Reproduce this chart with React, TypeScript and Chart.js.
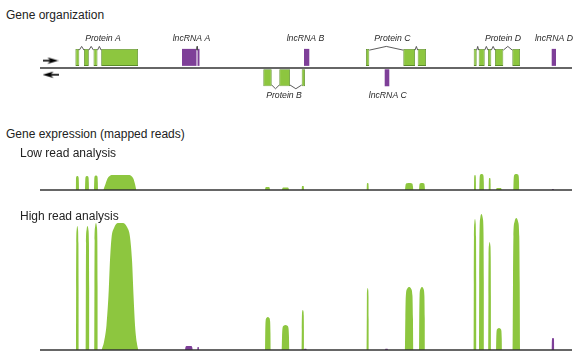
import React, { useEffect, useRef } from "react";
import { Chart, registerables } from "chart.js";

Chart.register(...registerables);

// ---------- genome axis (arbitrary genomic position units) ----------
const AXIS_START = 0;
const AXIS_END = 532;

// ---------- gene models: exon [start, end] ----------
const proteinAExons = [[35.4, 39.3], [44.0, 48.8], [53.5, 57.5], [61.2, 98.0]];
const lncRnaAExons = [[142.0, 156.5], [157.5, 159.5]];
const proteinBExons = [[223.3, 231.7], [239.3, 250.0], [261.7, 265.0]];
const lncRnaBExons = [[264.0, 269.3]];
const proteinCExons = [[326.0, 329.3], [363.3, 375.0], [377.7, 386.0]];
const lncRnaCExons = [[344.7, 349.3]];
const proteinDExons = [[433.7, 436.7], [438.7, 444.7], [448.0, 451.3], [455.0, 463.3], [472.3, 480.0]];
const lncRnaDExons = [[511.7, 516.0]];

const geneNames = ["Protein A", "lncRNA A", "Protein B", "lncRNA B", "Protein C", "lncRNA C", "Protein D", "lncRNA D"];
const geneStrands = [1, 1, -1, 1, 1, -1, 1, 1];
const geneIsProtein = [true, false, true, false, true, false, true, false];
const geneLabelCentres = [63, 151.5, 244, 265.5, 352.3, 347.8, 463, 514];
const geneExonLists = [proteinAExons, lncRnaAExons, proteinBExons, lncRnaBExons, proteinCExons, lncRnaCExons, proteinDExons, lncRnaDExons];

// ---------- mapped reads: [start, end, reads] ----------
const lowReadGreenPeaks = [
  [35.7, 39.0, 14], [45.0, 49.0, 14], [54.0, 58.0, 14.5],
  [225.0, 230.0, 3], [242.0, 249.0, 2.5], [261.7, 264.0, 4],
  [326.7, 328.7, 7], [365.0, 373.3, 7], [379.0, 385.0, 7],
  [434.0, 436.0, 15], [439.3, 444.0, 16], [448.7, 450.7, 12],
  [456.0, 461.7, 2], [473.3, 479.3, 16],
];
const lowReadProteinAProfile = [
  [63.3, 0], [65.5, 6], [67.5, 11.5], [70, 14.3], [73, 15], [88, 15], [91, 14.3], [93.3, 11.5], [95, 6], [96.3, 0],
];
const lowReadPurplePeaks = [[511.7, 514.0, 1]];

const highReadGreenPeaks = [
  [36.0, 38.7, 124], [45.7, 49.3, 124], [54.3, 57.7, 127],
  [225.0, 230.7, 33], [241.7, 249.3, 25], [261.7, 264.0, 40],
  [326.7, 328.7, 62], [365.0, 373.3, 63], [379.0, 385.0, 63],
  [433.7, 436.3, 131], [439.0, 444.0, 136], [448.3, 451.0, 108],
  [456.0, 462.0, 22], [472.7, 480.0, 132],
];
const highReadProteinAProfile = [
  [61.5, 0], [64, 8], [66.5, 25], [68.5, 55], [70, 90], [71.5, 112], [74, 122], [78, 127], [83, 127],
  [87, 123], [90, 113], [92, 90], [93.5, 55], [95, 25], [96.7, 8], [98.3, 0],
];
const highReadPurplePeaks = [
  [145.0, 152.7, 4], [157.3, 159.0, 3], [264.0, 266.7, 1.2], [345.0, 348.0, 1.2], [511.7, 514.3, 12],
];

// ---------- styles ----------
const GREEN = "#8dc63f";
const GREEN_EDGE = "#5b8c2a";
const PURPLE = "#7e3f98";
const AXIS_COLOR = "#333333";
const TITLE_FONT = "'Liberation Sans', Arial, Helvetica, sans-serif";

// gene track vertical layout (track units)
const FWD_Y = 0.625;
const REV_Y = -0.575;
const FWD_EDGE = 1.05;
const FWD_APEX = 1.27;
const REV_EDGE = -1.0;
const REV_APEX = -1.22;
const FWD_LABEL_Y = 1.575;
const REV_LABEL_Y = -1.75;
const ARROW_X = 10.5;
const FWD_ARROW_Y = 0.435;
const REV_ARROW_Y = -0.4;

const PAD = { left: 40, right: 11 };

function peakOutline(peaks: number[][]) {
  const pts: { x: number; y: number }[] = [];
  peaks.forEach(([s, e, h]) => {
    const w = e - s;
    pts.push({ x: s, y: 0 });
    pts.push({ x: s + w * 0.04, y: h * 0.5 });
    pts.push({ x: s + w * 0.1, y: h * 0.86 });
    pts.push({ x: s + w * 0.25, y: h * 0.97 });
    pts.push({ x: (s + e) / 2, y: h });
    pts.push({ x: e - w * 0.25, y: h * 0.97 });
    pts.push({ x: e - w * 0.1, y: h * 0.86 });
    pts.push({ x: e - w * 0.04, y: h * 0.5 });
    pts.push({ x: e, y: 0 });
  });
  return pts;
}

function profilePoints(profile: number[][]) {
  return profile.map(([x, y]) => ({ x, y }));
}

function makeArrow() {
  const c = document.createElement("canvas");
  c.width = 16;
  c.height = 8;
  const g = c.getContext("2d")!;
  g.fillStyle = "#000";
  g.fillRect(0, 3.2, 9, 1.6);
  g.beginPath();
  g.moveTo(16, 4);
  g.lineTo(5, 0.8);
  g.lineTo(8, 4);
  g.lineTo(5, 7.2);
  g.closePath();
  g.fill();
  return c;
}

function baselineDataset() {
  return {
    type: "line",
    data: [{ x: AXIS_START, y: 0 }, { x: AXIS_END, y: 0 }],
    borderColor: AXIS_COLOR,
    borderWidth: 1.5,
    pointRadius: 0,
    fill: false,
    clip: false,
  };
}

const geneLabelPlugin = {
  id: "geneLabels",
  afterDatasetsDraw(chart: any) {
    const { ctx, scales } = chart;
    ctx.save();
    ctx.font = `italic 8.7px ${TITLE_FONT}`;
    ctx.fillStyle = "#2a2a2a";
    ctx.textAlign = "center";
    ctx.textBaseline = "alphabetic";
    geneNames.forEach((name, i) => {
      const x = scales.x.getPixelForValue(geneLabelCentres[i]);
      const y = scales.y.getPixelForValue(geneStrands[i] > 0 ? FWD_LABEL_Y : REV_LABEL_Y);
      ctx.fillText(name, x, y);
    });
    ctx.restore();
  },
};

function geneConfig() {
  const exonData: any[] = [];
  const exonFill: string[] = [];
  const exonEdge: string[] = [];
  const exonEdgeW: number[] = [];
  const hats: any[] = [];
  geneExonLists.forEach((exons, g) => {
    const fwd = geneStrands[g] > 0;
    exons.forEach(([s, e]) => {
      exonData.push({ x: [s, e], y: fwd ? FWD_Y : REV_Y });
      exonFill.push(geneIsProtein[g] ? GREEN : PURPLE);
      exonEdge.push(geneIsProtein[g] ? GREEN_EDGE : PURPLE);
      exonEdgeW.push(geneIsProtein[g] ? 0.8 : 0);
    });
    for (let i = 1; i < exons.length; i++) {
      const a = exons[i - 1][1];
      const b = exons[i][0];
      const edge = fwd ? FWD_EDGE : REV_EDGE;
      const apex = fwd ? FWD_APEX : REV_APEX;
      hats.push({ x: a, y: edge }, { x: (a + b) / 2, y: apex }, { x: b, y: edge }, { x: b, y: null });
    }
  });
  const arrow = makeArrow();
  return {
    type: "line",
    data: {
      datasets: [
        baselineDataset(),
        {
          type: "line",
          data: [{ x: ARROW_X, y: FWD_ARROW_Y }, { x: ARROW_X, y: REV_ARROW_Y }],
          showLine: false,
          pointStyle: arrow,
          pointRotation: [0, 180],
          pointRadius: 5,
          clip: false,
        },
        {
          type: "line",
          data: hats,
          borderColor: "#4a4a4a",
          borderWidth: 0.9,
          pointRadius: 0,
          spanGaps: false,
          fill: false,
          clip: false,
        },
        {
          type: "bar",
          indexAxis: "y",
          data: exonData,
          backgroundColor: exonFill,
          borderColor: exonEdge,
          borderWidth: exonEdgeW,
          borderSkipped: false,
          barThickness: 17,
          inflateAmount: 0,
        },
      ],
    },
    options: {
      animation: false,
      responsive: false,
      devicePixelRatio: 1,
      events: [],
      layout: { padding: { left: PAD.left, right: PAD.right, top: 0, bottom: 0 } },
      plugins: { legend: { display: false }, tooltip: { enabled: false } },
      scales: {
        x: { type: "linear", min: AXIS_START, max: AXIS_END, display: false, offset: false },
        y: { type: "linear", min: -2, max: 2, display: false, offset: false },
      },
    },
    plugins: [geneLabelPlugin],
  };
}

function coverageConfig(green: number[][], profile: number[][], purple: number[][], yMax: number) {
  const common = {
    type: "line",
    pointRadius: 0,
    borderColor: "rgba(0,0,0,0)",
    borderWidth: 0.01,
    cubicInterpolationMode: "monotone",
    fill: "origin",
  };
  return {
    type: "line",
    data: {
      datasets: [
        baselineDataset(),
        { ...common, data: peakOutline(green), backgroundColor: GREEN },
        { ...common, data: profilePoints(profile), backgroundColor: GREEN },
        { ...common, data: peakOutline(purple), backgroundColor: PURPLE },
      ],
    },
    options: {
      animation: false,
      responsive: false,
      devicePixelRatio: 1,
      events: [],
      layout: { padding: { left: PAD.left, right: PAD.right, top: 0, bottom: 4 } },
      plugins: { legend: { display: false }, tooltip: { enabled: false } },
      scales: {
        x: { type: "linear", min: AXIS_START, max: AXIS_END, display: false, offset: false },
        y: { type: "linear", min: 0, max: yMax, display: false, offset: false },
      },
    },
  };
}

function ChartCanvas({ top, height, make }: { top: number; height: number; make: () => any }) {
  const ref = useRef<HTMLCanvasElement>(null);
  useEffect(() => {
    if (!ref.current) return;
    const chart = new Chart(ref.current, make());
    return () => chart.destroy();
  }, []);
  return (
    <canvas
      ref={ref}
      width={583}
      height={height}
      style={{ position: "absolute", left: 0, top, width: 583, height, display: "block" }}
    />
  );
}

function Title({ text, left, top }: { text: string; left: number; top: number }) {
  return (
    <div
      style={{
        position: "absolute",
        left,
        top,
        font: `12px ${TITLE_FONT}`,
        lineHeight: "14px",
        color: "#222",
        whiteSpace: "nowrap",
      }}
    >
      {text}
    </div>
  );
}

export default function App() {
  return (
    <div style={{ position: "fixed", left: 0, top: 0, width: 583, height: 359, background: "#fff", overflow: "hidden" }}>
      <ChartCanvas top={28} height={80} make={geneConfig} />
      <ChartCanvas
        top={160}
        height={34}
        make={() => coverageConfig(lowReadGreenPeaks, lowReadProteinAProfile, lowReadPurplePeaks, 30)}
      />
      <ChartCanvas
        top={200}
        height={154}
        make={() => coverageConfig(highReadGreenPeaks, highReadProteinAProfile, highReadPurplePeaks, 150)}
      />
      <Title text="Gene organization" left={6} top={8} />
      <Title text="Gene expression (mapped reads)" left={6} top={127} />
      <Title text="Low read analysis" left={20} top={146} />
      <Title text="High read analysis" left={20} top={209} />
    </div>
  );
}
